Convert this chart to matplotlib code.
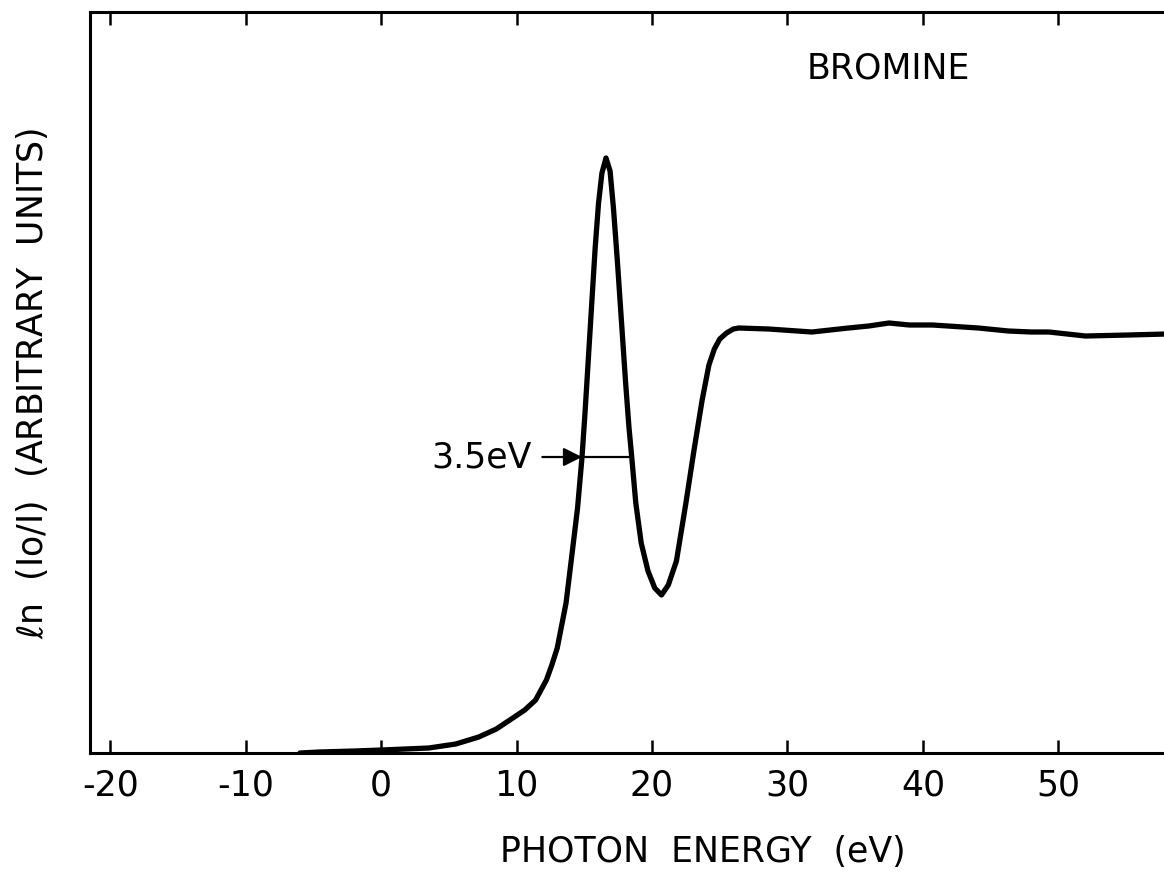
import matplotlib
matplotlib.use("Agg")
import matplotlib.pyplot as plt

# absorption curve (y in arbitrary units)
energy = [-6.0, -4.6, -2.0, 0.0, 3.5, 5.5, 7.2, 8.5, 9.5, 10.6, 11.4, 12.2, 12.6, 13.0,
          13.65, 14.1, 14.5, 14.83, 15.05, 15.3, 15.55, 15.8, 16.05, 16.3, 16.6,
          16.9, 17.15, 17.45, 17.75, 18.05, 18.3, 18.5, 18.8, 19.2, 19.7, 20.2, 20.7,
          21.2, 21.8, 22.5, 23.1, 23.7, 24.2, 24.6, 25.0, 25.5, 26.0, 26.4,
          28.6, 31.8, 34.5, 36.0, 37.5, 39.0, 40.7, 44.1, 46.3, 48.0, 49.3,
          52.0, 55.2, 58.0]
absorb = [0.0, 0.01, 0.02, 0.03, 0.05, 0.09, 0.16, 0.24, 0.33, 0.43, 0.53, 0.73, 0.88, 1.05,
          1.50, 2.00, 2.45, 2.96, 3.40, 3.95, 4.50, 5.05, 5.50, 5.80, 5.95,
          5.82, 5.45, 4.90, 4.30, 3.70, 3.25, 2.96, 2.50, 2.10, 1.82, 1.65, 1.58,
          1.68, 1.92, 2.50, 3.03, 3.53, 3.88, 4.04, 4.14, 4.20, 4.24, 4.25,
          4.24, 4.21, 4.25, 4.27, 4.30, 4.28, 4.28, 4.25, 4.22, 4.21, 4.21,
          4.17, 4.18, 4.19]

xticks = [-20, -10, 0, 10, 20, 30, 40, 50]
xticklabels = ["-20", "-10", "0", "10", "20", "30", "40", "50"]

fwhm_left = 14.83
fwhm_right = 18.5
fwhm_y = 2.96

fig = plt.figure(figsize=(11.64, 8.75), dpi=100)
ax = fig.add_axes([0.0773, 0.1394, 0.9227, 0.8469])

ax.plot(energy, absorb, color="black", lw=3.8, solid_joinstyle="round",
        solid_capstyle="round")

# half-width marker
ax.plot([fwhm_left, fwhm_right], [fwhm_y, fwhm_y], color="black", lw=1.6)
ax.annotate("", xy=(fwhm_left, fwhm_y), xytext=(11.9, fwhm_y),
            arrowprops=dict(arrowstyle="-|>", color="black", lw=1.6,
                            mutation_scale=28, shrinkA=0, shrinkB=0))
ax.text(11.15, fwhm_y, "3.5eV", fontsize=25, ha="right", va="center")

ax.text(31.4, 6.84, "BROMINE", fontsize=25, ha="left", va="center")

ax.set_xlim(-21.5, 57.8)
ax.set_ylim(0, 7.41)
ax.set_xticks(xticks)
ax.set_xticklabels(xticklabels, fontsize=25)
ax.set_yticks([])
ax.tick_params(axis="x", direction="in", length=9.5, width=1.8, pad=11,
               top=True, bottom=True)
for side in ["left", "top", "bottom"]:
    ax.spines[side].set_linewidth(2.2)
ax.spines["right"].set_visible(False)

fig.text(703 / 1164, 1 - 852 / 875, "PHOTON  ENERGY  (eV)", fontsize=25,
         ha="center", va="center")
fig.text(32 / 1164, 1 - 383 / 875, r"$\ell$n  (Io/I)  (ARBITRARY  UNITS)",
         fontsize=25, ha="center", va="center", rotation=90)

plt.savefig("out.png", dpi=100)
